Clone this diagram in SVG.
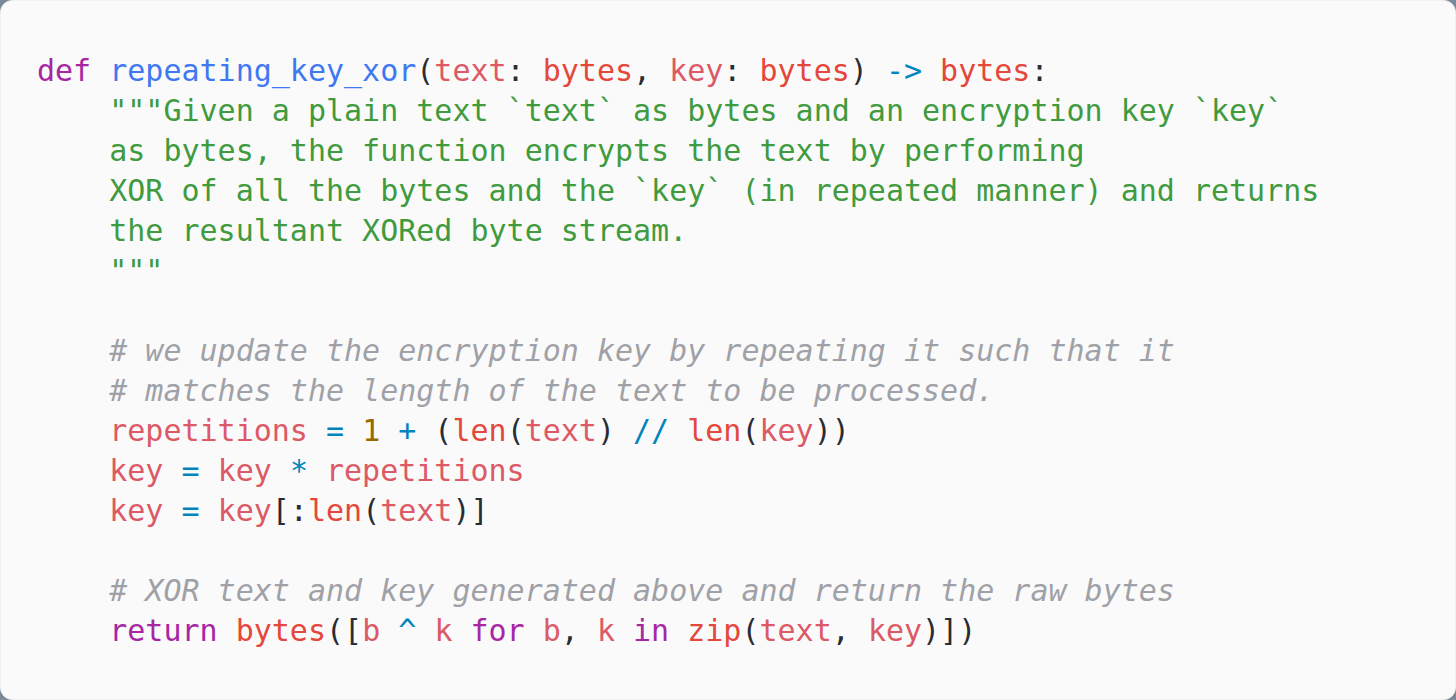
<svg xmlns="http://www.w3.org/2000/svg" width="1456" height="700" viewBox="0 0 1456 700">
<style>
text{font-family:"DejaVu Sans Mono","Liberation Mono",monospace;font-size:30px;fill:#2a2c33;white-space:pre}
.kw{fill:#a626a4}.fn{fill:#4078f2}.v{fill:#dc5966}.bi{fill:#e4473b}.op{fill:#0184bc}.num{fill:#986801}.s{fill:#409a3e}.c{fill:#a0a1a7;font-style:italic}.p{fill:#2a2c33}
</style>
<rect x="0" y="0" width="1456" height="700" fill="#7b8a99"/>
<rect x="0.5" y="0.5" width="1455" height="699" rx="12" fill="#fafafa" stroke="#f1f2f3" stroke-width="1"/>
<g id="code">
<text x="37" y="81" xml:space="preserve"><tspan class="kw">def</tspan> <tspan class="fn">repeating_key_xor</tspan>(<tspan class="v">text</tspan>: <tspan class="bi">bytes</tspan>, <tspan class="v">key</tspan>: <tspan class="bi">bytes</tspan>) <tspan class="op">-&gt;</tspan> <tspan class="bi">bytes</tspan>:</text>
<text x="37" y="121" class="s" xml:space="preserve">    """Given a plain text `text` as bytes and an encryption key `key`</text>
<text x="37" y="161" class="s" xml:space="preserve">    as bytes, the function encrypts the text by performing</text>
<text x="37" y="201" class="s" xml:space="preserve">    XOR of all the bytes and the `key` (in repeated manner) and returns</text>
<text x="37" y="241" class="s" xml:space="preserve">    the resultant XORed byte stream.</text>
<text x="37" y="281" class="s" xml:space="preserve">    """</text>
<text x="37" y="361" class="c" xml:space="preserve">    # we update the encryption key by repeating it such that it</text>
<text x="37" y="401" class="c" xml:space="preserve">    # matches the length of the text to be processed.</text>
<text x="37" y="441" xml:space="preserve">    <tspan class="v">repetitions</tspan> <tspan class="op">=</tspan> <tspan class="num">1</tspan> <tspan class="op">+</tspan> (<tspan class="bi">len</tspan>(<tspan class="v">text</tspan>) <tspan class="op">//</tspan> <tspan class="bi">len</tspan>(<tspan class="v">key</tspan>))</text>
<text x="37" y="481" xml:space="preserve">    <tspan class="v">key</tspan> <tspan class="op">=</tspan> <tspan class="v">key</tspan> <tspan class="op">*</tspan> <tspan class="v">repetitions</tspan></text>
<text x="37" y="521" xml:space="preserve">    <tspan class="v">key</tspan> <tspan class="op">=</tspan> <tspan class="v">key</tspan>[:<tspan class="bi">len</tspan>(<tspan class="v">text</tspan>)]</text>
<text x="37" y="601" class="c" xml:space="preserve">    # XOR text and key generated above and return the raw bytes</text>
<text x="37" y="641" xml:space="preserve">    <tspan class="kw">return</tspan> <tspan class="bi">bytes</tspan>([<tspan class="v">b</tspan> <tspan class="op">^</tspan> <tspan class="v">k</tspan> <tspan class="kw">for</tspan> <tspan class="v">b</tspan>, <tspan class="v">k</tspan> <tspan class="kw">in</tspan> <tspan class="bi">zip</tspan>(<tspan class="v">text</tspan>, <tspan class="v">key</tspan>)])</text>
</g>
</svg>
